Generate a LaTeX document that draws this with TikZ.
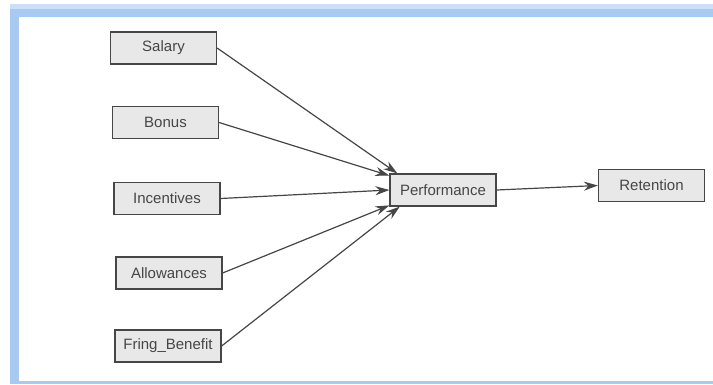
\documentclass[tikz,border=0pt]{standalone}
\usepackage{fontspec}
\setmainfont{Liberation Sans}
\usetikzlibrary{arrows.meta}
\definecolor{framefill}{RGB}{168,202,242}
\definecolor{boxfill}{RGB}{232,232,232}
\definecolor{boxline}{RGB}{70,70,70}
\begin{document}
\begin{tikzpicture}[x=1pt,y=-1pt,
  var/.style={draw=boxline,fill=boxfill,line width=1.2pt,minimum width=106pt,minimum height=32pt,inner sep=0pt,text=boxline,font=\fontsize{15}{18}\selectfont},
  link/.style={draw=boxline,line width=1.2pt,-{Stealth[length=14pt,width=9pt]}}]

\useasboundingbox (0,0) rectangle (713,384);

\fill[framefill!60] (10,4) rectangle (713,384);
\fill[framefill] (10,9) rectangle (713,384);
\fill[white] (19,17) rectangle (713,381);

\node[var] (salary) at (163.5,48) {Salary};
\node[var] (bonus) at (165.5,122.5) {Bonus};
\node[var] (incentives) at (167,198.5) {Incentives};
\node[var] (allowances) at (169,273) {Allowances};
\node[var] (fringe) at (168,346) {Fring\_Benefit};

\node[var] (perf) at (443,190) {Performance};
\node[var] (retention) at (651.5,185.5) {Retention};

\draw[link] (salary.east) -- (perf.160);
\draw[link] (bonus.east) -- (perf.165);
\draw[link] (incentives.east) -- (perf.west);
\draw[link] (allowances.east) -- (perf.196);
\draw[link] (fringe.east) -- (perf.201);
\draw[link] (perf.east) -- (retention.west);

\end{tikzpicture}
\end{document}
